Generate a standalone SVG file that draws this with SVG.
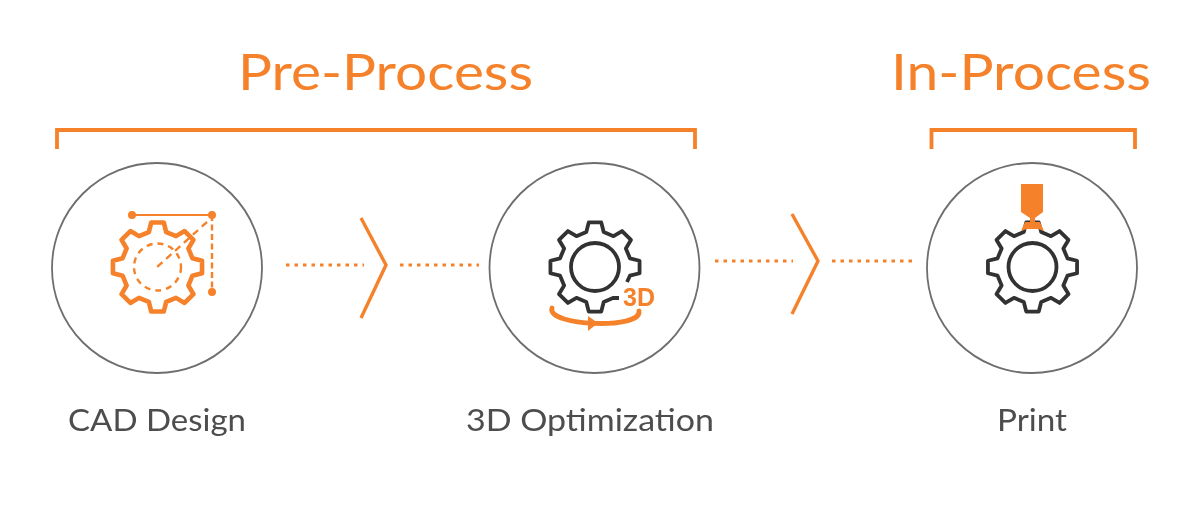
<svg xmlns="http://www.w3.org/2000/svg" width="1200" height="506" viewBox="0 0 1200 506">
<style>
.ring{fill:none;stroke:#6e6e6e;stroke-width:1.8}
.bk{fill:none;stroke:#f5822a;stroke-width:3.8}
.chev{fill:none;stroke:#f5822a;stroke-width:3.4}
.dots{fill:none;stroke:#f5822a;stroke-width:3.2;stroke-dasharray:3.5 5}
.title{font-family:"Lato","Liberation Sans",sans-serif;font-size:51px;fill:#f5822a}
.lab{font-family:"Lato","Liberation Sans",sans-serif;font-size:31px;fill:#4d4d4d}
.gk{fill:none;stroke:#333;stroke-width:3.8;stroke-linejoin:round}
</style>
<defs>
<filter id="soft" filterUnits="userSpaceOnUse" x="0" y="0" width="1200" height="506"><feGaussianBlur stdDeviation="0.6"/></filter>
<path id="gear" d="M34.93-8.71L44.56-6.26L44.56 6.26L34.93 8.71L30.86 18.54L35.94 27.08L27.08 35.94L18.54 30.86L8.71 34.93L6.26 44.56L-6.26 44.56L-8.71 34.93L-18.54 30.86L-27.08 35.94L-35.94 27.08L-30.86 18.54L-34.93 8.71L-44.56 6.26L-44.56-6.26L-34.93-8.71L-30.86-18.54L-35.94-27.08L-27.08-35.94L-18.54-30.86L-8.71-34.93L-6.26-44.56L6.26-44.56L8.71-34.93L18.54-30.86L27.08-35.94L35.94-27.08L30.86-18.54Z"/>
</defs>
<g filter="url(#soft)">
<g id="titles">
<text class="title" x="238" y="90" textLength="295" lengthAdjust="spacingAndGlyphs">Pre-Process</text>
<text class="title" x="891" y="90" textLength="260" lengthAdjust="spacingAndGlyphs">In-Process</text>
</g>
<g id="brackets">
<path class="bk" d="M57 149V130H695V149"/>
<path class="bk" d="M931.500 149V130H1135V149"/>
</g>
<g id="node-cad">
<circle class="ring" cx="157" cy="268" r="105"/>
<use href="#gear" x="157.500" y="267" fill="none" stroke="#f5822a" stroke-width="4.600" stroke-linejoin="round"/>
<circle cx="157.500" cy="267" r="23.500" fill="none" stroke="#f5822a" stroke-width="2.400" stroke-dasharray="6 5"/>
<path fill="none" stroke="#f5822a" stroke-width="2.200" d="M132 215H212"/>
<path fill="none" stroke="#f5822a" stroke-width="2.400" stroke-dasharray="6 3.500" d="M212 215V292"/>
<path fill="none" stroke="#f5822a" stroke-width="2.400" stroke-dasharray="7 5" d="M207 222L156 268"/>
<circle cx="132" cy="215" r="4" fill="#f5822a"/>
<circle cx="212" cy="215" r="4" fill="#f5822a"/>
<circle cx="212" cy="292" r="4" fill="#f5822a"/>
<text class="lab" x="157" y="431" text-anchor="middle" textLength="178" lengthAdjust="spacingAndGlyphs">CAD Design</text>
</g>
<g id="node-opt">
<circle class="ring" cx="594.500" cy="268" r="105"/>
<path class="gk" transform="translate(595 267)" d="M24 31L18.54 30.86L8.71 34.93L6.26 44.56L-6.26 44.56L-8.71 34.93L-18.54 30.86L-27.08 35.94L-35.94 27.08L-30.86 18.54L-34.93 8.71L-44.56 6.26L-44.56-6.26L-34.93-8.71L-30.86-18.54L-35.94-27.08L-27.08-35.94L-18.54-30.86L-8.71-34.93L-6.26-44.56L6.26-44.56L8.71-34.93L18.54-30.86L27.08-35.94L35.94-27.08L30.86-18.54L34.93-8.71L44.56-6.26L44.56 6.26L34.93 8.71L32 15"/>
<circle cx="595" cy="267" r="24" fill="none" stroke="#333" stroke-width="3.800"/>
<path fill="none" stroke="#f5822a" stroke-width="4.800" stroke-linecap="round" d="M552 308C546 326 642 330 639 311"/>
<path fill="#f5822a" d="M588 316L598 323L588 331Z"/>
<text x="639" y="306" text-anchor="middle" font-family="Liberation Sans,sans-serif" font-weight="700" font-size="25" fill="#f5822a">3D</text>
<text class="lab" x="590" y="431" text-anchor="middle" textLength="248" lengthAdjust="spacingAndGlyphs">3D Optimization</text>
</g>
<g id="node-print">
<circle class="ring" cx="1032" cy="268" r="105"/>
<use href="#gear" x="1032.500" y="267" class="gk"/>
<circle cx="1032.500" cy="267" r="24" fill="none" stroke="#333" stroke-width="3.800"/>
<path fill="#f5822a" d="M1021 184H1043V212L1035 218V222H1040L1044 231L1038 229H1027L1021 231L1025 222H1030V218L1021 212Z"/>
<text class="lab" x="1032" y="431" text-anchor="middle" textLength="70" lengthAdjust="spacingAndGlyphs">Print</text>
</g>
<g id="connectors">
<path class="dots" d="M286 265H364M400 265H479"/>
<path class="chev" d="M361 218L386 265L361 318"/>
<path class="dots" d="M715 261H793M832 261H913"/>
<path class="chev" d="M792 214L818 261L792 314"/>
</g>
</g>
</svg>
